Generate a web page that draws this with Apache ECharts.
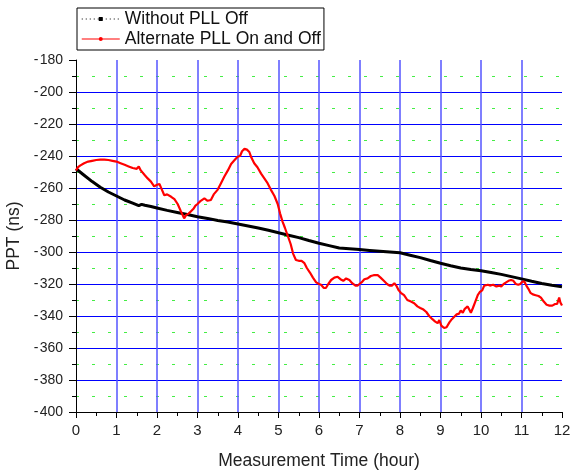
<!DOCTYPE html>
<html><head><meta charset="utf-8">
<script src="https://cdn.jsdelivr.net/npm/echarts@6/dist/echarts.min.js"></script>
<style>html,body{margin:0;padding:0;background:#fff}#c{width:570px;height:470px}</style>
</head><body><div id="c"></div>
<script>
const seriesNames = ["Without PLL Off", "Alternate PLL On and Off"];
const xTicks = [0,1,2,3,4,5,6,7,8,9,10,11,12];
const yTicks = [-400,-380,-360,-340,-320,-300,-280,-260,-240,-220,-200,-180];
const blackHours = [0,0.2,0.4,0.6,0.8,1.0,1.2,1.4,1.55,1.62,1.7,1.85,2.0,2.25,2.5,2.75,3.0,3.25,3.5,3.75,4.0,4.25,4.5,4.75,5.0,5.25,5.5,5.75,6.0,6.25,6.5,6.75,7.0,7.25,7.5,7.75,8.0,8.25,8.5,8.75,9.0,9.25,9.5,9.75,10.0,10.25,10.5,10.75,11.0,11.25,11.5,11.75,12.0];
const blackValues = [-248,-252,-256,-259.5,-262.5,-265,-267.5,-269.5,-271,-270.2,-270.8,-271.6,-272.5,-274,-275.3,-276.6,-278,-279,-280.3,-281.3,-282.5,-283.7,-285,-286.4,-288,-289.5,-291,-292.8,-294.5,-296,-297.5,-298,-298.5,-299,-299.5,-300,-300.5,-302,-303.5,-305.3,-307,-308.6,-310,-310.9,-311.7,-312.8,-314,-315.4,-316.8,-318.3,-319.7,-320.8,-321.7];
const redHours = [0,0.05,0.1,0.2,0.3,0.4,0.5,0.6,0.7,0.8,0.9,1.0,1.1,1.2,1.3,1.4,1.5,1.55,1.6,1.7,1.77,1.85,1.93,2.0,2.06,2.12,2.18,2.25,2.35,2.43,2.51,2.58,2.67,2.72,2.78,2.84,2.9,2.95,3.0,3.08,3.17,3.25,3.33,3.4,3.5,3.58,3.66,3.75,3.83,3.9,3.99,4.05,4.1,4.16,4.22,4.28,4.33,4.4,4.48,4.57,4.65,4.73,4.81,4.9,4.98,5.04,5.1,5.16,5.23,5.3,5.36,5.43,5.5,5.57,5.64,5.7,5.78,5.85,5.93,6.0,6.05,6.12,6.17,6.23,6.3,6.38,6.46,6.53,6.6,6.67,6.75,6.82,6.9,6.95,7.0,7.05,7.12,7.2,7.28,7.35,7.45,7.52,7.6,7.68,7.74,7.8,7.86,7.92,7.97,8.02,8.1,8.18,8.27,8.35,8.43,8.5,8.58,8.65,8.72,8.8,8.87,8.93,8.97,9.02,9.09,9.15,9.22,9.28,9.34,9.4,9.46,9.5,9.55,9.6,9.67,9.71,9.75,9.8,9.86,9.92,9.97,10.03,10.08,10.12,10.17,10.22,10.3,10.38,10.45,10.5,10.56,10.62,10.68,10.74,10.8,10.86,10.92,10.97,11.02,11.07,11.12,11.17,11.22,11.28,11.35,11.42,11.48,11.55,11.62,11.69,11.76,11.83,11.88,11.91,11.93,11.96,12.0];
const redValues = [-249,-247,-246,-244.5,-243.5,-243,-242.5,-242.3,-242.3,-242.5,-243,-243.5,-244.5,-245.5,-246.5,-247.5,-248,-246.5,-249,-252,-254,-256,-259,-258,-257.5,-261,-264.5,-264,-265.5,-267,-270,-274,-279,-277,-276,-274.5,-273,-271,-270,-268,-266.5,-268,-267.5,-264,-261,-257,-253,-249,-245,-243,-240.5,-240,-237,-235.5,-236,-237.5,-241,-244.5,-247,-251,-254,-257,-261,-265,-270,-276,-281,-285,-290,-295,-301,-305,-305.5,-305.5,-307,-310,-313,-316,-319,-320,-320.5,-322.5,-322.5,-320,-317.5,-316,-315.5,-317,-318,-316.5,-317.5,-319.5,-321,-321,-320,-319,-317,-316.5,-315,-314.5,-314.5,-316,-318,-320,-321,-321,-319.5,-321.5,-324,-325.5,-327,-330,-331,-332,-334,-335,-336,-337.5,-340,-342,-343.5,-344.5,-342.5,-346,-347.5,-347,-344,-342,-340.5,-339,-338.5,-336.5,-338,-335.5,-334,-336,-338,-335,-331,-327,-325,-324,-321,-320.5,-320.5,-321,-320.5,-321.5,-321,-321.5,-320,-319,-318,-317.5,-318,-320,-320.5,-320,-318.5,-318.5,-321,-323,-325.5,-326.5,-327,-327.5,-328.5,-331,-333,-333.5,-333.5,-332.5,-332.5,-330,-328.5,-331.5,-333.5];

const zip = (a, b) => a.map((v, i) => [v, b[i]]);
const FONT = "'Liberation Sans', Arial, sans-serif";
const chart = echarts.init(document.getElementById('c'), null, {renderer: 'canvas'});
chart.setOption({
  animation: false,
  backgroundColor: '#fff',
  grid: {left: 76, right: 8, top: 60, bottom: 58, containLabel: false, outerBoundsMode: 'none'},
  legend: {
    orient: 'vertical', left: 77, top: 8,
    backgroundColor: '#fff', borderColor: '#000', borderWidth: 1, borderRadius: 0,
    padding: [1, 3, 1, 4], itemGap: 0, itemWidth: 38, itemHeight: 5,
    textStyle: {fontFamily: FONT, fontSize: 17.5, color: '#111', lineHeight: 20},
    data: [
      {name: seriesNames[0], itemStyle: {color: '#000'}, lineStyle: {type: [1, 3], width: 1, color: '#000'}},
      {name: seriesNames[1], itemStyle: {color: '#f00'}, lineStyle: {width: 1.5, color: '#f55'}}
    ]
  },
  xAxis: {
    type: 'value', min: xTicks[0], max: xTicks[xTicks.length - 1], interval: 1,
    name: 'Measurement Time (hour)', nameLocation: 'middle', nameGap: 40,
    nameTextStyle: {fontFamily: FONT, fontSize: 17.5, color: '#222'},
    axisLine: {show: true, lineStyle: {color: '#000', width: 1}},
    axisTick: {show: true, inside: false, length: 6, lineStyle: {color: '#000'}},
    minorTick: {show: true, splitNumber: 2, length: 4, lineStyle: {color: '#000'}},
    axisLabel: {fontFamily: FONT, fontSize: 15, color: '#222', margin: 11},
    splitLine: {show: true, showMinLine: false, showMaxLine: false, lineStyle: {color: '#5555ff', width: 1.5}}
  },
  yAxis: {
    type: 'value', min: yTicks[0], max: yTicks[yTicks.length - 1], interval: 20,
    name: 'PPT (ns)', nameLocation: 'middle', nameGap: 44,
    nameTextStyle: {fontFamily: FONT, fontSize: 17.5, color: '#222'},
    axisLine: {show: true, lineStyle: {color: '#000', width: 1}},
    axisTick: {show: true, inside: false, length: 7, lineStyle: {color: '#000'}},
    minorTick: {show: true, splitNumber: 2, length: 4, lineStyle: {color: '#000'}},
    axisLabel: {fontFamily: FONT, fontSize: 14, color: '#222', margin: 13,
      formatter: v => String(v).replace('-', '-\u200a')},
    splitLine: {show: true, showMinLine: false, showMaxLine: false, lineStyle: {color: '#0000ff', width: 1}},
    minorSplitLine: {show: true, lineStyle: {color: '#44ee44', width: 1, type: [3, 13], dashOffset: 0}}
  },
  series: [
    {name: seriesNames[0], type: 'line', data: zip(blackHours, blackValues), showSymbol: false,
     symbol: 'rect', symbolSize: 4, itemStyle: {color: '#000'},
     lineStyle: {color: '#000', width: 3}, z: 3},
    {name: seriesNames[1], type: 'line', data: zip(redHours, redValues), showSymbol: false,
     symbol: 'circle', symbolSize: 3, itemStyle: {color: '#f00'},
     lineStyle: {color: '#f00', width: 2.2}, z: 4}
  ]
});
</script></body></html>
